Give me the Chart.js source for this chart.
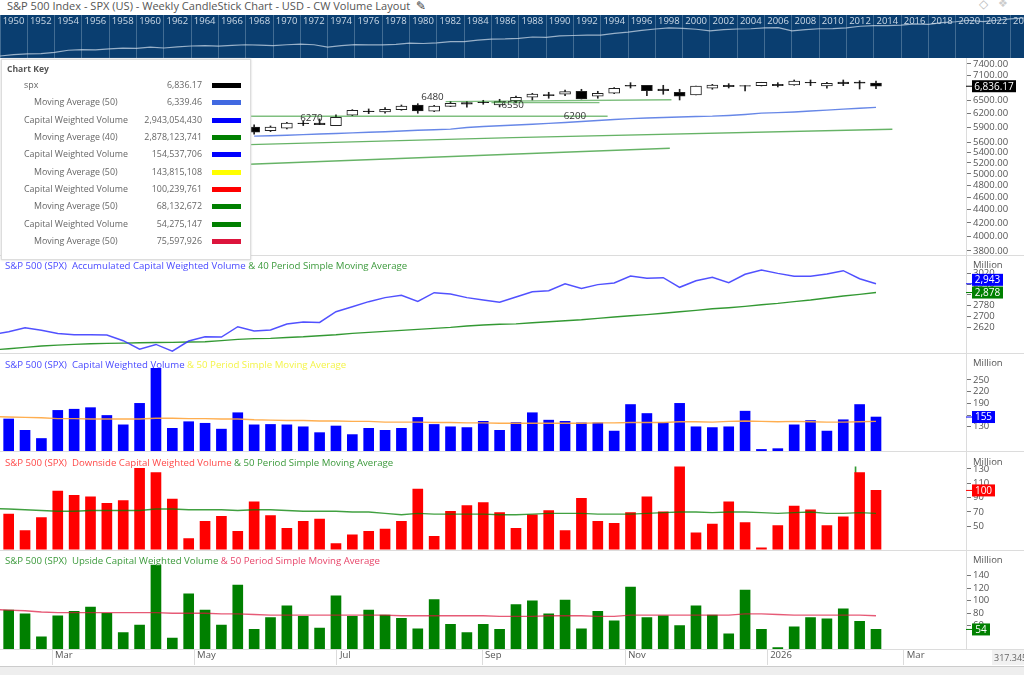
<!DOCTYPE html>
<html>
<head>
<meta charset="utf-8">
<title>S&amp;P 500 Index</title>
<script src="https://cdn.jsdelivr.net/npm/chart.js@4"></script>
<style>
html, body { margin: 0; padding: 0; background: #fff; }
body { width: 1024px; height: 675px; position: relative; overflow: hidden; font-family: "Open Sans", sans-serif; color: #555; filter: blur(0.35px); }
canvas { position: absolute; left: 0; }
.abs { position: absolute; white-space: pre; }
#title { left: 7px; top: -1px; font-size: 11.05px; line-height: 14px; color: #555; }
#band { top: 15px; }
#main { top: 58px; }
.ptitle { left: 5px; font-size: 9.65px; line-height: 12px; }
.mil { left: 973px; font-size: 9.5px; line-height: 12px; color: #555; }
#key { left: 1px; top: 59px; width: 248px; height: 199px; background: #fff; border: 1px solid #ddd; box-shadow: 0 0 2px #ccc; }
#key .t { left: 5px; top: 3px; font-size: 8.6px; font-weight: 700; color: #555; }
#key .l, #key .v { font-size: 8.9px; line-height: 12px; color: #666; }
#key .v { right: 48px; }
#key .s { left: 210px; width: 29px; height: 5px; }
#foot { left: 0; top: 666px; width: 1024px; height: 9px; background: #eee; border-top: 1px solid #ccc; }
#scale { left: 992px; top: 650px; width: 32px; height: 15px; background: #f1f1f1; font-size: 9px; line-height: 15px; padding-left: 2px; overflow: hidden; color: #666; }
</style>
</head>
<body>
<div id="title" class="abs">S&amp;P 500 Index - SPX (US) - Weekly CandleStick Chart - USD - CW Volume Layout  <span style="font-family:'DejaVu Sans';font-size:12px;color:#333">&#9998;</span></div>
<div class="abs" style="left:979px;top:-3px;font-family:'DejaVu Sans';font-size:12px;color:#bbb">&#9671;</div>
<div class="abs" style="left:998px;top:-3px;font-family:'DejaVu Sans';font-size:11px;color:#ccc">&#10070;</div>
<canvas id="band" width="1024" height="43"></canvas>
<canvas id="main" width="1024" height="608"></canvas>
<div id="key" class="abs"></div>
<div class="abs ptitle" style="top:260px"><span style="color:#4a4aff">S&amp;P 500 (SPX)  Accumulated Capital Weighted Volume</span><span style="color:#3c9a3c"> &amp; 40 Period Simple Moving Average</span></div>
<div class="abs ptitle" style="top:359px"><span style="color:#4a4aff">S&amp;P 500 (SPX)  Capital Weighted Volume</span><span style="color:#f4f44a"> &amp; 50 Period Simple Moving Average</span></div>
<div class="abs ptitle" style="top:457px"><span style="color:#ff4a4a">S&amp;P 500 (SPX)  Downside Capital Weighted Volume</span><span style="color:#3c9a3c"> &amp; 50 Period Simple Moving Average</span></div>
<div class="abs ptitle" style="top:555px"><span style="color:#3c9a3c">S&amp;P 500 (SPX)  Upside Capital Weighted Volume</span><span style="color:#e8456a"> &amp; 50 Period Simple Moving Average</span></div>
<div class="abs mil" style="top:259px">Million</div>
<div class="abs mil" style="top:357px">Million</div>
<div class="abs mil" style="top:456px">Million</div>
<div class="abs mil" style="top:554px">Million</div>
<div id="scale" class="abs">317.345</div>
<div id="foot" class="abs"></div>
<script>
// navigator band, one value per year from 1950
var navYears = [1950,1951,1952,1953,1954,1955,1956,1957,1958,1959,1960,1961,1962,1963,1964,1965,1966,1967,1968,1969,1970,1971,1972,1973,1974,1975,1976,1977,1978,1979,1980,1981,1982,1983,1984,1985,1986,1987,1988,1989,1990,1991,1992,1993,1994,1995,1996,1997,1998,1999,2000,2001,2002,2003,2004,2005,2006,2007,2008,2009,2010,2011,2012,2013,2014,2015,2016,2017,2018,2019,2020,2021,2022,2023,2024,2025];
var navValues = [17,21,24,25,30,42,46,44,52,58,56,68,60,72,82,88,80,92,100,94,88,100,112,100,70,88,102,98,98,106,130,122,135,165,165,205,245,250,275,340,325,400,430,460,455,610,740,960,1200,1450,1340,1150,880,1100,1200,1250,1420,1470,890,1100,1250,1260,1420,1850,2050,2040,2240,2670,2500,3230,3750,4760,3840,4770,5880,6800];
var navTicks = [1950,1952,1954,1956,1958,1960,1962,1964,1966,1968,1970,1972,1974,1976,1978,1980,1982,1984,1986,1988,1990,1992,1994,1996,1998,2000,2002,2004,2006,2008,2010,2012,2014,2016,2018,2020,2022,2024];

// date axis, positions are in weeks counted from the first bar
var monthTicks = [2.65,11.33,20.06,28.93,37.67,46.35,54.7];
var monthLabels = ['Mar','May','Jul','Sep','Nov','2026','Mar'];

// candles, first visible one is week 15 (older ones sit behind the key)
var candleStart = 15;
var priceOpen  = [5907,5836,5886,5992,5992,5941,6164,6259,6237,6288,6394,6252,6364,6447,6463,6394,6486,6572,6633,6643,6714,6596,6666,6859,6859,6769,6690,6626,6786,6859,6849,6849,6883,6866,6933,6842,6940,6940,6916];
var priceHigh  = [5955,5934,6013,6040,6083,6171,6288,6304,6333,6394,6424,6387,6470,6470,6502,6525,6603,6666,6690,6745,6762,6714,6801,6923,6859,6859,6762,6842,6883,6899,6849,6933,6923,6990,6990,6933,6990,6973,6965];
var priceLow   = [5762,5815,5871,5941,5962,5941,6156,6200,6208,6274,6208,6243,6355,6342,6410,6349,6440,6509,6549,6610,6532,6549,6657,6793,6610,6643,6509,6626,6762,6793,6721,6842,6818,6859,6849,6786,6849,6769,6776];
var priceClose = [5803,5907,5992,5983,5962,6120,6274,6243,6297,6371,6259,6371,6433,6410,6447,6470,6572,6650,6610,6704,6532,6666,6786,6835,6728,6728,6596,6842,6866,6825,6835,6933,6849,6965,6916,6908,6899,6908,6836];
var priceMa50  = [5721,5731,5740,5752,5764,5777,5789,5801,5813,5826,5842,5854,5867,5902,5923,5938,5955,5970,5987,6008,6029,6051,6072,6090,6105,6116,6127,6138,6145,6160,6182,6211,6222,6237,6259,6277,6299,6319,6339];
var priceTicks = [3800,4000,4200,4400,4600,4800,5000,5200,5400,5600,5900,6200,6500,7100,7400];

// green support lines on the price panel
var lineAWeeks = [14.7,36.6];     var lineAValues = [6142,6142];
var lineBWeeks = [26.7,40.5];     var lineBValues = [6470,6516];
var lineCWeeks = [29.5,36.1];     var lineCValues = [6447,6447];
var lineDWeeks = [14.7,30.8,54];  var lineDValues = [5551,5691,5864];
var lineEWeeks = [14.7,30.65,40.4]; var lineEValues = [5176,5364,5480];
var noteLabels = ['6270','6480','6550','6200'];
var noteWeeks  = [18.5,25.9,30.8,34.6];
var noteValues = [6105,6579,6394,6135];

// the line series begin one week before the first bar, so they reach the left edge
var lineStart = -1;

// accumulated capital weighted volume, millions
var accValues = [2563,2586,2616,2596,2573,2563,2563,2561,2519,2456,2491,2441,2516,2548,2546,2623,2591,2598,2643,2658,2655,2735,2772,2810,2840,2857,2812,2877,2867,2840,2822,2805,2845,2884,2892,2944,2909,2937,2949,3001,2984,2989,2917,2966,2991,2951,3014,3046,3021,2999,2999,3016,3041,2981,2943];
var accMa40 = [2449,2459,2469,2479,2486,2491,2496,2499,2501,2504,2505,2506,2509,2511,2519,2529,2534,2536,2543,2548,2556,2563,2573,2581,2588,2596,2603,2611,2618,2628,2636,2641,2644,2653,2660,2668,2675,2685,2695,2705,2713,2723,2735,2745,2757,2765,2775,2787,2797,2810,2822,2837,2852,2864,2878];
var accTicks = [2620,2700,2780,2860,2940,3020];

// capital weighted volume, millions
var capValues = [150,121,100,172,175,179,159,135,190,280,126,143,139,124,166,135,136,135,130,115,132,110,126,121,126,154,136,130,128,144,121,141,166,147,144,140,140,119,187,164,141,190,130,128,130,170,72,74,135,146,119,148,187,155];
var capMa50 = [156,155,154,153,151,151,150,150,150,150,152,152,151,151,150,150,148,147,146,146,145,145,144,144,142,142,142,141,141,140,140,139,139,139,139,139,139,140,140,141,141,141,143,143,142,144,145,144,143,144,143,142,142,143,144];
var capTicks = [130,160,190,220,250];

// downside volume, millions
var downValues = [67,44,62,99,93,91,82,86,131,125,88,33,57,64,43,84,65,47,57,60,26,38,43,46,57,102,36,71,79,83,69,47,66,72,44,89,57,54,69,91,70,133,41,53,84,55,20,51,78,73,51,63,125,100];
var downMa50 = [75,74,73,72,71,71,72,72,72,72,74,74,73,73,73,72,73,73,72,71,71,71,70,70,68,66,68,67,67,67,67,66,66,67,68,68,68,67,67,67,68,69,70,70,69,70,70,69,68,69,70,68,68,69,68];
var downSpike = [124,133];
var downSpikeWeek = 51.75;
var downTicks = [50,70,90,110,130];

// upside volume, millions
var upValues = [85,79,42,76,83,90,80,49,61,157,40,111,85,61,125,54,73,92,75,56,108,75,85,77,72,55,102,62,49,62,54,94,100,79,101,55,83,68,122,73,76,60,92,77,47,117,54,25,58,73,71,87,67,54];
var upMa50 = [86,85,84,82,81,81,81,81,81,81,81,80,80,80,79,79,78,77,77,77,77,77,77,77,77,76,76,76,76,76,76,75,75,75,76,76,76,75,75,77,77,77,77,77,77,77,79,79,78,77,77,77,77,77,76];
var upTicks = [60,80,100,120,140];

// chart key
var keyLabels = ['spx','Moving Average (50)','Capital Weighted Volume','Moving Average (40)','Capital Weighted Volume','Moving Average (50)','Capital Weighted Volume','Moving Average (50)','Capital Weighted Volume','Moving Average (50)'];
var keyValues = ['6,836.17','6,339.46','2,943,054,430','2,878,123,741','154,537,706','143,815,108','100,239,761','68,132,672','54,275,147','75,597,926'];
var keyColors = ['#000','#4169e1','#0000ff','#008000','#0000ff','#ffff00','#ff0000','#008000','#008000','#dc143c'];

// price tags on the right axis
var tagAxes   = ['yPrice','yAcc','yAcc','yCap','yDown','yUp'];
var tagValues = [6836.17,2943,2878,155,100,54];
var tagTexts  = ['6,836.17','2,943','2,878','155','100','54'];
var tagColors = ['#000','#0000ff','#008000','#0000ff','#ff0000','#008000'];
var tagWidths = [44,31,31,23,23,18];
var tagShift  = [0,-4,0,0,0,0];

var FONT = 'Open Sans';

function fillKey(){
    var key = document.getElementById('key');
    var html = '<div class="abs t">Chart Key</div>';
    for(var i = 0;i<keyLabels.length;i++){
        var top = 19 + i*17.35;
        var left = (i%2==0) ? 22 : 32;
        html += '<div class="abs l" style="left:'+left+'px;top:'+top+'px">'+keyLabels[i]+'</div>';
        html += '<div class="abs v" style="top:'+top+'px">'+keyValues[i]+'</div>';
        html += '<div class="abs s" style="top:'+(top+4)+'px;background:'+keyColors[i]+'"></div>';
    }
    key.innerHTML = html;
}
fillKey();

function weekly(arr, start){
    return arr.map(function(v,i){ return {x:i+(start||0), y:v}; });
}
function pairs(xs, ys){
    return xs.map(function(x,i){ return {x:x, y:ys[i]}; });
}
function lineSet(data, axis, color, width){
    return {type:'line', data:data, yAxisID:axis, borderColor:color, borderWidth:width||1.4, pointRadius:0, tension:0, order:1};
}
function barSet(data, axis, color, thick){
    return {type:'bar', data:data, yAxisID:axis, backgroundColor:color, barThickness:thick||10, grouped:false, order:5};
}

var candleWicks = priceHigh.map(function(h,i){ return {x:i+candleStart, y:[priceLow[i],h]}; });
var candleBodies = priceOpen.map(function(o,i){ return {x:i+candleStart, y:[o,priceClose[i]]}; });
var bodyColors = priceOpen.map(function(o,i){ return priceClose[i]<o ? '#000' : '#fff'; });

function yAxis(type, weight, ticks, min, max, fmt){
    return {
        type:type, position:'right', stack:'panels', stackWeight:weight, min:min, max:max,
        afterFit:function(s){ s.width = 58; s.paddingTop = 0; s.paddingBottom = 0; },
        afterBuildTicks:function(s){ s.ticks = ticks.map(function(v){ return {value:v}; }); },
        grid:{drawOnChartArea:false, tickLength:5, color:'#777'},
        border:{display:false},
        ticks:{autoSkip:false, padding:2, color:'#555', font:{family:FONT, size:9.5}, callback:fmt||function(v){ return v; }}
    };
}

// separators, right axis line, tags and level notes
var extras = {
    id:'extras',
    afterDraw:function(chart){
        var c = chart.ctx, area = chart.chartArea;
        c.save();
        c.strokeStyle = '#dcdcdc';
        c.lineWidth = 1;
        ['yPrice','yAcc','yCap','yDown','yUp'].forEach(function(id){
            var y = Math.round(chart.scales[id].bottom)+0.5;
            c.beginPath(); c.moveTo(0,y); c.lineTo(chart.width,y); c.stroke();
        });
        c.beginPath(); c.moveTo(area.right+0.5,0); c.lineTo(area.right+0.5,area.bottom); c.stroke();
        c.font = '9.8px "'+FONT+'"';
        c.textBaseline = 'middle';
        c.textAlign = 'center';
        c.fillStyle = '#333';
        var xs = chart.scales.x, py = chart.scales.yPrice;
        noteLabels.forEach(function(t,i){
            c.fillText(t, xs.getPixelForValue(noteWeeks[i]), py.getPixelForValue(noteValues[i]));
        });
        c.font = '10px "'+FONT+'"';
        tagValues.forEach(function(v,i){
            var y = chart.scales[tagAxes[i]].getPixelForValue(v);
            c.strokeStyle = tagColors[i];
            c.beginPath(); c.moveTo(area.right,y); c.lineTo(area.right+7,y); c.stroke();
            var ty = y + tagShift[i];
            c.fillStyle = tagColors[i];
            c.fillRect(area.right+6, ty-6, tagWidths[i], 12);
            c.fillStyle = '#fff';
            c.fillText(tagTexts[i], area.right+6+tagWidths[i]/2, ty+0.5);
        });
        c.restore();
    }
};

var ctx = document.getElementById('main').getContext('2d');
var chart = new Chart(ctx, {
    data: {
        datasets: [
            lineSet(weekly(priceMa50,candleStart), 'yPrice', 'rgba(65,105,225,0.8)'),
            lineSet(pairs(lineAWeeks,lineAValues), 'yPrice', 'rgba(0,128,0,0.5)'),
            lineSet(pairs(lineBWeeks,lineBValues), 'yPrice', 'rgba(0,128,0,0.5)'),
            lineSet(pairs(lineCWeeks,lineCValues), 'yPrice', 'rgba(0,128,0,0.5)'),
            lineSet(pairs(lineDWeeks,lineDValues), 'yPrice', 'rgba(0,128,0,0.6)'),
            lineSet(pairs(lineEWeeks,lineEValues), 'yPrice', 'rgba(0,128,0,0.6)'),
            {type:'bar', data:candleBodies, yAxisID:'yPrice', backgroundColor:bodyColors, borderColor:'#222', borderWidth:1, borderSkipped:false, barThickness:11, grouped:false, order:4},
            barSet(candleWicks, 'yPrice', '#222', 1),
            lineSet(weekly(accValues,lineStart), 'yAcc', 'rgba(50,50,255,0.85)', 1.5),
            lineSet(weekly(accMa40,lineStart), 'yAcc', 'rgba(0,128,0,0.8)'),
            barSet(weekly(capValues), 'yCap', '#0000ff'),
            lineSet(weekly(capMa50,lineStart), 'yCap', 'rgba(255,165,60,0.9)'),
            barSet(weekly(downValues), 'yDown', '#ff0000'),
            lineSet(weekly(downMa50,lineStart), 'yDown', 'rgba(0,128,0,0.75)'),
            barSet([{x:downSpikeWeek,y:downSpike}], 'yDown', 'rgba(0,128,0,0.8)', 1),
            barSet(weekly(upValues), 'yUp', '#008000'),
            lineSet(weekly(upMa50,lineStart), 'yUp', 'rgba(220,20,60,0.7)')
        ]
    },
    options: {
        responsive:false,
        animation:false,
        layout:{padding:0},
        plugins:{legend:{display:false}, tooltip:{enabled:false}},
        scales:{
            x:{
                type:'linear', position:'bottom', min:-0.53, max:58.5, offset:false,
                afterFit:function(s){ s.height = 17; s.paddingLeft = 0; s.paddingRight = 0; },
                afterBuildTicks:function(s){ s.ticks = monthTicks.map(function(v){ return {value:v}; }); },
                grid:{offset:false, drawOnChartArea:false, tickLength:16, color:'#dcdcdc'},
                border:{display:false},
                ticks:{
                    autoSkip:false, maxRotation:0, align:'start', padding:-15, labelOffset:3, color:'#555',
                    font:{family:FONT, size:9.5},
                    callback:function(v){ return monthLabels[monthTicks.indexOf(v)]; }
                }
            },
            yPrice:yAxis('logarithmic', 197, priceTicks, 3745, 7560, function(v){ return v.toFixed(2); }),
            yAcc:yAxis('linear', 98, accTicks, 2427, 3158),
            yCap:yAxis('linear', 98, capTicks, 68, 319),
            yDown:yAxis('linear', 98.5, downTicks, 17.6, 155),
            yUp:yAxis('linear', 99.5, upTicks, 22.7, 182)
        }
    },
    plugins:[extras]
});

var navCtx = document.getElementById('band').getContext('2d');
var navChart = new Chart(navCtx, {
    type:'line',
    data:{datasets:[{data:pairs(navYears,navValues), borderColor:'rgba(200,215,230,0.75)', borderWidth:1.2, pointRadius:0, tension:0}]},
    options:{
        responsive:false,
        animation:false,
        layout:{padding:0},
        plugins:{
            legend:{display:false}, tooltip:{enabled:false},
        },
        scales:{
            x:{
                type:'linear', min:1950, max:2025, position:{y:10900},
                afterFit:function(s){ s.paddingLeft = 0; s.paddingRight = 0; },
                afterBuildTicks:function(s){ s.ticks = navTicks.map(function(v){ return {value:v}; }); },
                grid:{color:'rgba(200,215,230,0.3)', drawTicks:false},
                border:{display:false},
                ticks:{autoSkip:false, maxRotation:0, padding:1, labelOffset:13.5, color:'#ccd9e6', font:{family:FONT, size:9.5},
                    callback:function(v){ return String(v); }}
            },
            y:{type:'logarithmic', min:12.4, max:10900, display:false}
        }
    },
    plugins:[{
        id:'bandBg',
        beforeDraw:function(c){
            c.ctx.save();
            c.ctx.fillStyle = '#0a3e70';
            c.ctx.fillRect(0,0,c.width,c.height);
            c.ctx.restore();
        }
    }]
});
</script>
</body>
</html>
